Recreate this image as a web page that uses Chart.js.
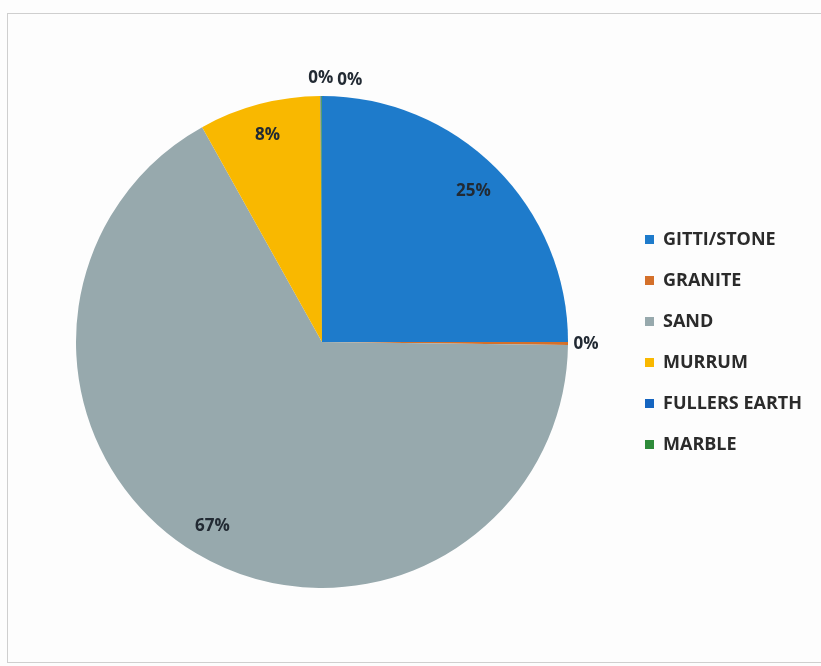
<!DOCTYPE html>
<html>
<head>
<meta charset="utf-8">
<script src="https://cdn.jsdelivr.net/npm/chart.js@4/dist/chart.umd.min.js"></script>
<style>
  html, body { margin: 0; padding: 0; background: #fdfdfd; }
  #frame {
    position: absolute; left: 7px; top: 13px; width: 830px; height: 650px;
    border: 1px solid #cfcfcf; box-sizing: border-box;
  }
  #wrap { position: absolute; left: 0; top: 0; width: 821px; height: 666px; }
</style>
</head>
<body>
<div id="frame"></div>
<div id="wrap"><canvas id="myChart" width="821" height="666"></canvas></div>
<script>
// minerals and their share of the total (percent)
const minerals = ['GITTI/STONE', 'GRANITE', 'SAND', 'MURRUM', 'FULLERS EARTH', 'MARBLE'];
const shares = [25.0, 0.2, 66.7, 8.0, 0.05, 0.05];
const colors = ['#1e7bcb', '#d4702a', '#97a9ad', '#f9b800', '#1565c0', '#2e8b3a'];

const labelFont = 'bold 17px "Open Sans", "DejaVu Sans", sans-serif';

// percentage labels: inside the slice for big ones, just outside for tiny ones
const pctLabels = {
  id: 'pctLabels',
  afterDatasetsDraw(chart) {
    const ctx = chart.ctx;
    const arcs = chart.getDatasetMeta(0).data;
    const total = shares.reduce((a, b) => a + b, 0);
    let prevOut = null;
    ctx.save();
    ctx.font = labelFont;
    ctx.fillStyle = '#222a33';
    ctx.textAlign = 'center';
    ctx.textBaseline = 'middle';
    arcs.forEach((arc, i) => {
      const pct = shares[i] / total * 100;
      const txt = Math.round(pct) + '%';
      const mid = (arc.startAngle + arc.endAngle) / 2;
      const w = ctx.measureText(txt).width;
      let x, y;
      if (pct >= 1) {
        const r = arc.outerRadius * 0.87;
        x = arc.x + Math.cos(mid) * r;
        y = arc.y + Math.sin(mid) * r;
      } else {
        const r = arc.outerRadius + 18;
        x = arc.x + Math.cos(mid) * r;
        y = arc.y + Math.sin(mid) * r;
        if (prevOut && Math.abs(prevOut.y - y) < 16 && Math.abs(prevOut.x - x) < (prevOut.w + w) / 2 + 4) {
          x = prevOut.x + (prevOut.w + w) / 2 + 4;
          y += 2;
        }
        prevOut = { x, y, w };
      }
      ctx.fillText(txt, x, y);
    });
    ctx.restore();
  }
};

// fixed legend width so the legend column lines up
const legendWidth = {
  id: 'legendWidth',
  beforeLayout(chart) {
    const lg = chart.legend;
    if (!lg || lg._fixedFit) return;
    const fit = lg.fit;
    lg.fit = function () {
      fit.call(this);
      this.width = 199;
    };
    lg._fixedFit = true;
  }
};

const ctx = document.getElementById('myChart');
new Chart(ctx, {
  type: 'pie',
  data: {
    labels: minerals,
    datasets: [{
      data: shares,
      backgroundColor: colors,
      borderWidth: 0
    }]
  },
  options: {
    responsive: false,
    animation: false,
    layout: { padding: { left: 22, right: 0, top: 96, bottom: 78 } },
    plugins: {
      tooltip: { enabled: false },
      legend: {
        position: 'right',
        labels: {
          boxWidth: 9,
          boxHeight: 9,
          padding: 23,
          color: '#2b2b2b',
          font: { family: '"Open Sans", "DejaVu Sans", sans-serif', size: 18, weight: 'bold' }
        }
      }
    }
  },
  plugins: [pctLabels, legendWidth]
});
</script>
</body>
</html>
